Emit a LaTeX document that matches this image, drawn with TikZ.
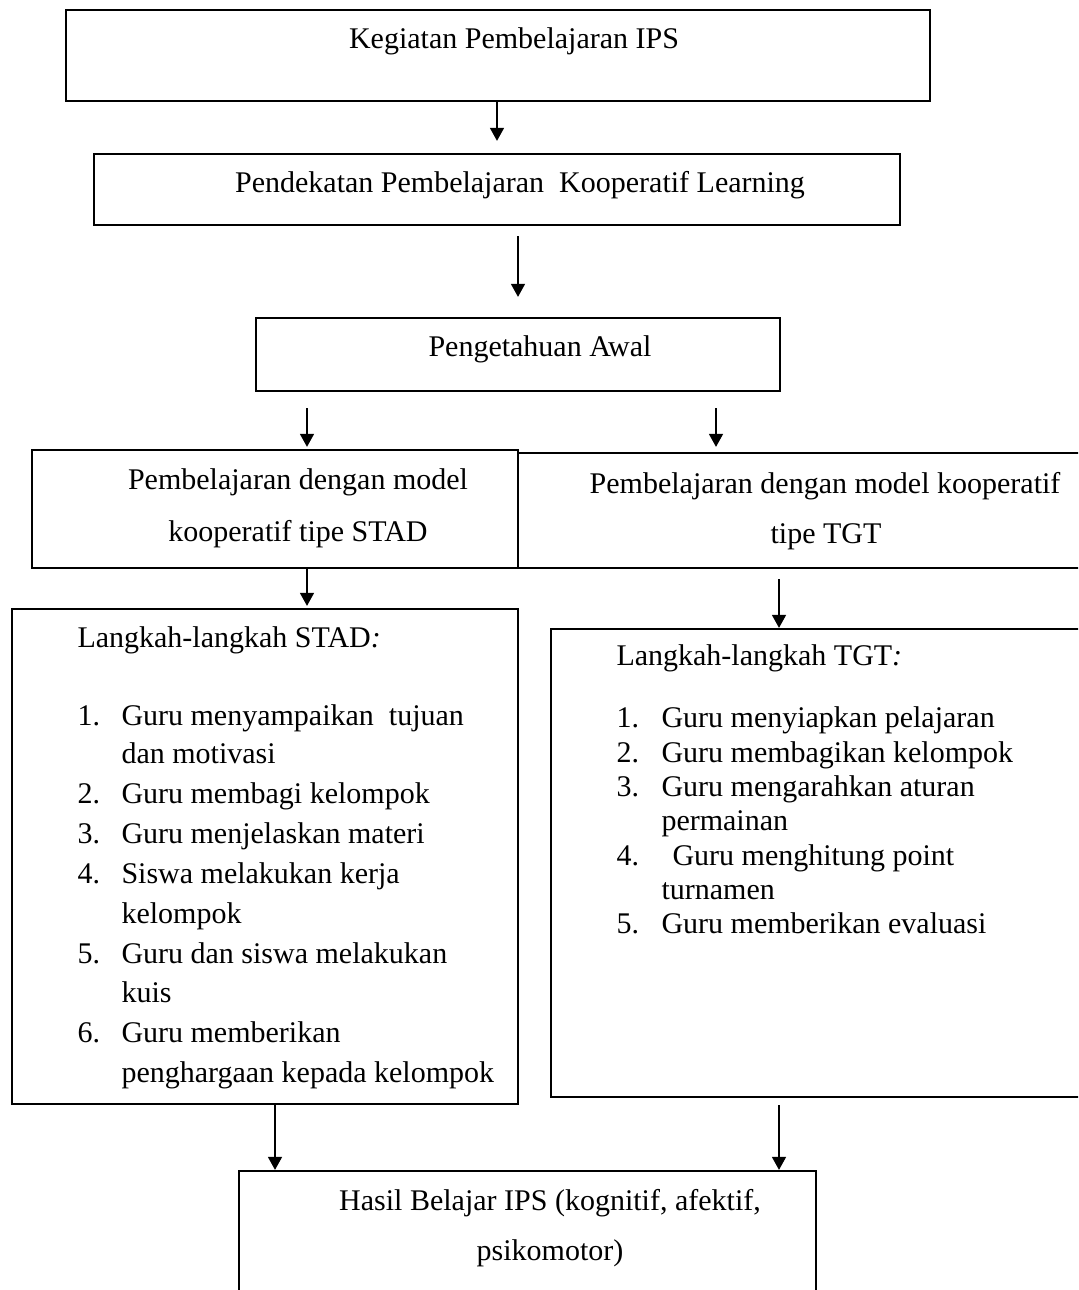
\documentclass[tikz,border=0pt]{standalone}
\usepackage{fontspec}
\setmainfont{Liberation Serif}
\usetikzlibrary{arrows.meta, fit}

\begin{document}
\begin{tikzpicture}[x=0.4pt, y=-0.4pt,
    box/.style={draw, line width=0.9pt, inner sep=0pt},
    txt/.style={font=\fontsize{12}{14}\selectfont, inner sep=0pt},
    arr/.style={-{Triangle[width=5.6pt, length=5.2pt]}, line width=0.6pt}]
  \useasboundingbox (0,0) rectangle (1078,1290);
  \clip (0,0) rectangle (1078,1290);

  % Boxes
  \node[box, fit={(66,10) (930,101)}] (kegiatan) {};
  \node[box, fit={(94,154) (900,225)}] (pendekatan) {};
  \node[box, fit={(256,318) (780,391)}] (awal) {};
  \node[box, fit={(32,450) (518,568)}] (stad) {};
  \node[box, fit={(518,453) (1100,568)}] (tgt) {};
  \node[box, fit={(12,609) (518,1104)}] (stadlist) {};
  \node[box, fit={(551,629) (1100,1097)}] (tgtlist) {};
  \node[box, fit={(239,1171) (816,1330)}] (hasil) {};

  % Box texts
  \node[txt, anchor=base] (kegiatan-t) at (514,49) {Kegiatan Pembelajaran IPS};
  \node[txt, anchor=base] (pendekatan-t) at (520,193) {Pendekatan Pembelajaran\ \ Kooperatif Learning};
  \node[txt, anchor=base] (awal-t) at (540,357) {Pengetahuan Awal};
  \node[txt, anchor=base] (stad-t1) at (298,490) {Pembelajaran dengan model};
  \node[txt, anchor=base] (stad-t2) at (298,541) {kooperatif tipe STAD};
  \node[txt, anchor=base] (tgt-t1) at (825,493) {Pembelajaran dengan model kooperatif};
  \node[txt, anchor=base] (tgt-t2) at (826,543) {tipe TGT};
  \node[txt, anchor=base] (hasil-t1) at (550,1210) {Hasil Belajar IPS (kognitif, afektif,};
  \node[txt, anchor=base] (hasil-t2) at (550,1260) {psikomotor)};

  % STAD steps
  \node[txt, anchor=base west] (stad-head) at (77,647) {Langkah-langkah STAD\textit{:}};
  \foreach \y/\n/\t [count=\i] in {725/1./Guru menyampaikan\ \ tujuan, 763//dan motivasi,
      803/2./Guru membagi kelompok, 843/3./Guru menjelaskan materi,
      883/4./Siswa melakukan kerja, 923//kelompok, 963/5./Guru dan siswa melakukan,
      1002//kuis, 1042/6./Guru memberikan, 1082//penghargaan kepada kelompok}
    \node[txt, anchor=base west] (stad-\i) at (121,\y) {\t}
      node[txt, anchor=base west] (stad-no-\i) at (77,\y) {\n};

  % TGT steps
  \node[txt, anchor=base west] (tgt-head) at (616,665) {Langkah-langkah TGT\textit{:}};
  \foreach \y/\x/\n/\t [count=\i] in {727/661/1./Guru menyiapkan pelajaran,
      762/661/2./Guru membagikan kelompok, 796/661/3./Guru mengarahkan aturan,
      830/661//permainan, 865/672/4./Guru menghitung point, 899/661//turnamen,
      933/661/5./Guru memberikan evaluasi}
    \node[txt, anchor=base west] (tgt-\i) at (\x,\y) {\t}
      node[txt, anchor=base west] (tgt-no-\i) at (616,\y) {\n};

  % Arrow columns
  \coordinate (c1) at (497,0);
  \coordinate (c2) at (518,0);
  \coordinate (c3) at (307,0);
  \coordinate (c4) at (716,0);
  \coordinate (c5) at (779,0);
  \coordinate (c6) at (275,0);

  % Arrows
  \draw[arr, shorten >=4.8pt] (kegiatan.south -| c1) -- (pendekatan.north -| c1);
  \draw[arr, shorten <=4pt, shorten >=8pt] (pendekatan.south -| c2) -- (awal.north -| c2);
  \draw[arr, shorten <=6.4pt, shorten >=0.8pt] (awal.south -| c3) -- (stad.north -| c3);
  \draw[arr, shorten <=6.4pt, shorten >=2pt] (awal.south -| c4) -- (tgt.north -| c4);
  \draw[arr, shorten >=0.8pt] (stad.south -| c3) -- (stadlist.north -| c3);
  \draw[arr, shorten <=4pt] (tgt.south -| c5) -- (tgtlist.north -| c5);
  \draw[arr] (stadlist.south -| c6) -- (hasil.north -| c6);
  \draw[arr, shorten <=2.8pt] (tgtlist.south -| c5) -- (hasil.north -| c5);
\end{tikzpicture}
\end{document}
